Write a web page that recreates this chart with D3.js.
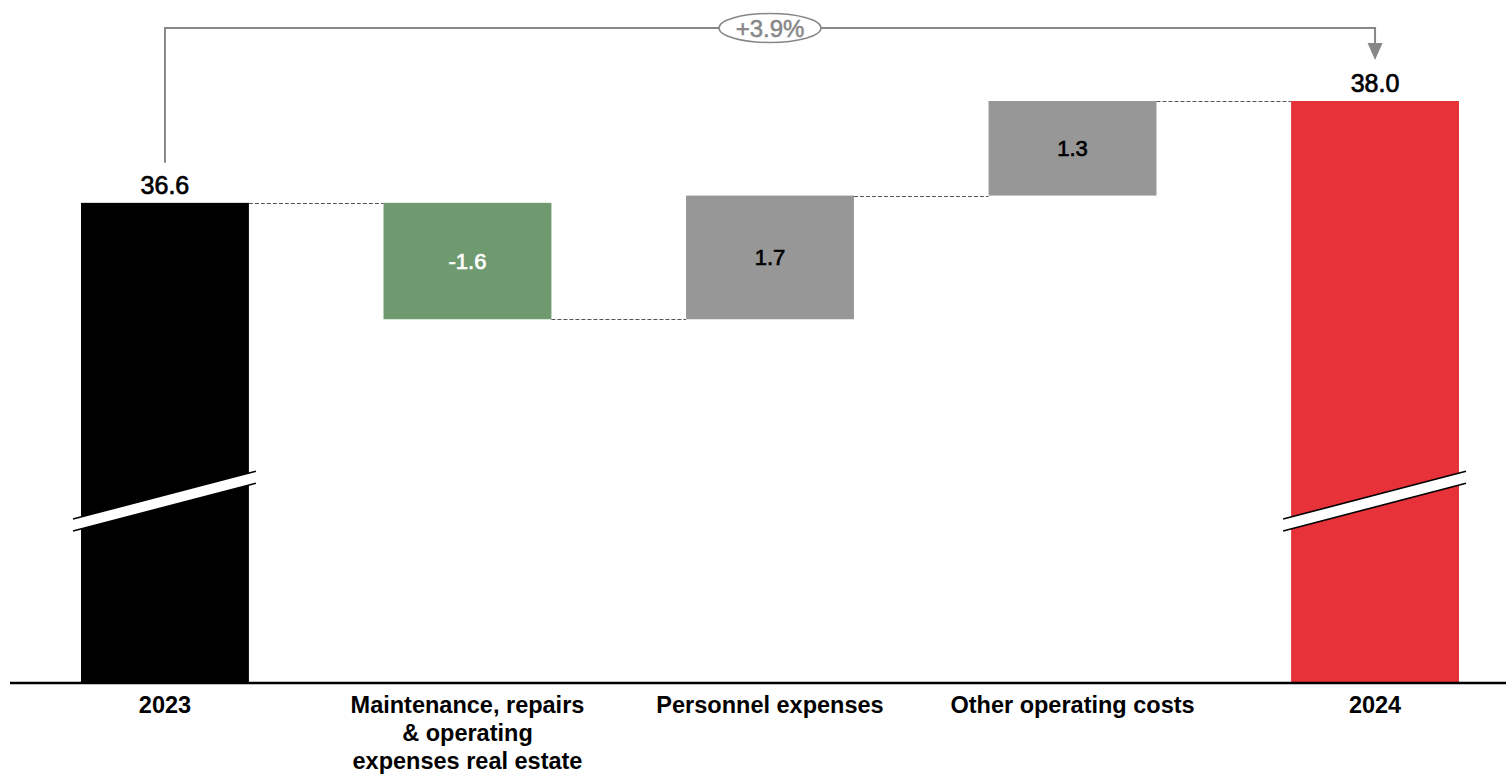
<!DOCTYPE html>
<html>
<head>
<meta charset="utf-8">
<script src="https://cdn.jsdelivr.net/npm/d3@7"></script>
<style>
  html, body { margin: 0; padding: 0; background: #fff; }
  svg { display: block; }
  text { font-family: "Liberation Sans", Arial, sans-serif; }
</style>
</head>
<body>
<svg id="chart" width="1506" height="775"></svg>
<script>
// Operating costs bridge, 2023 -> 2024
const categories = ["2023", "Maintenance, repairs & operating expenses real estate", "Personnel expenses", "Other operating costs", "2024"];
const labelLines = [["2023"], ["Maintenance, repairs", "& operating", "expenses real estate"], ["Personnel expenses"], ["Other operating costs"], ["2024"]];
const kinds = ["total", "delta", "delta", "delta", "total"];
const values = [36.6, -1.6, 1.7, 1.3, 38.0];
const changeLabel = "+3.9%";
const axisFloor = 30; // value at the broken baseline

const colors = { start: "#000000", end: "#e63238", down: "#6f9a70", up: "#979797" };

const svg = d3.select("#chart");
const W = 1506, H = 775;

const x = d3.scaleBand().domain(categories).range([81, 1459]).paddingInner(0.445).paddingOuter(0);
const y = d3.scaleLinear().domain([axisFloor, 38]).range([683, 101]);

// build waterfall segments
let running = 0;
const bars = categories.map((c, i) => {
  let lo, hi;
  if (kinds[i] === "total") { lo = axisFloor; hi = values[i]; running = values[i]; }
  else { const prev = running; running = +(running + values[i]).toFixed(2); lo = Math.min(prev, running); hi = Math.max(prev, running); }
  let fill;
  if (i === 0) fill = colors.start;
  else if (i === categories.length - 1) fill = colors.end;
  else fill = values[i] < 0 ? colors.down : colors.up;
  return { c, i, lo, hi, end: running, fill, v: values[i], kind: kinds[i] };
});

// bars
svg.append("g").selectAll("rect").data(bars).join("rect")
  .attr("x", d => x(d.c))
  .attr("y", d => y(d.hi))
  .attr("width", x.bandwidth())
  .attr("height", d => y(d.lo) - y(d.hi))
  .attr("fill", d => d.fill);

// dashed connectors between consecutive bars
const conn = svg.append("g");
for (let i = 0; i < bars.length - 1; i++) {
  const lvl = bars[i].end;
  conn.append("line")
    .attr("x1", x(bars[i].c) + x.bandwidth())
    .attr("x2", x(bars[i + 1].c))
    .attr("y1", Math.round(y(lvl)) + 0.5)
    .attr("y2", Math.round(y(lvl)) + 0.5)
    .attr("stroke", "#555")
    .attr("stroke-width", 1)
    .attr("stroke-dasharray", "4,2");
}

// axis break marks on the total bars
const brk = svg.append("g");
bars.filter(d => d.kind === "total").forEach(d => {
  const x0 = x(d.c) - 8, x1 = x(d.c) + x.bandwidth() + 7;
  const cx = x(d.c) + x.bandwidth() / 2;
  const cy = y(axisFloor) - 182;
  const slope = -0.262, gap = 6;
  const yAt = (xx, off) => cy + slope * (xx - cx) + off;
  brk.append("path")
    .attr("d", `M${x0},${yAt(x0, -gap)} L${x1},${yAt(x1, -gap)} L${x1},${yAt(x1, gap)} L${x0},${yAt(x0, gap)} Z`)
    .attr("fill", "#fff");
  [-gap, gap].forEach(off => {
    brk.append("line")
      .attr("x1", x0).attr("y1", yAt(x0, off))
      .attr("x2", x1).attr("y2", yAt(x1, off))
      .attr("stroke", "#000").attr("stroke-width", 1.6);
  });
});

// value labels (slightly thickened outline gives a medium weight)
const fmt = v => d3.format(".1f")(v).replace("\u2212", "-");
svg.append("g").selectAll("text").data(bars).join("text")
  .attr("x", d => x(d.c) + x.bandwidth() / 2)
  .attr("y", d => d.kind === "total" ? y(d.hi) - 9 : (y(d.hi) + y(d.lo)) / 2 + 8)
  .attr("text-anchor", "middle")
  .attr("font-size", d => d.kind === "total" ? 25 : 22)
  .attr("fill", d => d.kind === "total" ? "#000" : (d.v < 0 ? "#fff" : "#000"))
  .attr("stroke", d => d.kind === "total" ? "#000" : (d.v < 0 ? "#fff" : "#000"))
  .attr("stroke-width", 0.7)
  .text(d => fmt(d.v));

// baseline
svg.append("line")
  .attr("x1", 10).attr("x2", W)
  .attr("y1", y(axisFloor)).attr("y2", y(axisFloor))
  .attr("stroke", "#000").attr("stroke-width", 2.5);

// category axis
const axis = svg.append("g")
  .attr("transform", `translate(0,${y(axisFloor)})`)
  .call(d3.axisBottom(x).tickSize(0).tickPadding(0));
axis.select(".domain").remove();
axis.selectAll(".tick text")
  .attr("font-size", 23.5)
  .attr("font-weight", "bold")
  .attr("fill", "#000")
  .attr("font-family", "'Liberation Sans', Arial, sans-serif")
  .attr("dy", null)
  .each(function (d, i) {
    const t = d3.select(this).text(null).attr("y", 30);
    labelLines[i].forEach((ln, k) => {
      t.append("tspan").attr("x", 0).attr("dy", k === 0 ? 0 : 28).text(ln);
    });
  });

// change bracket from first to last total
const bx0 = x(categories[0]) + x.bandwidth() / 2;
const bx1 = x(categories[categories.length - 1]) + x.bandwidth() / 2;
const topY = 28;
const gcol = "#878787";
svg.append("path")
  .attr("d", `M${bx0},${y(values[0]) - 40} V${topY} H${bx1} V${46}`)
  .attr("fill", "none").attr("stroke", gcol).attr("stroke-width", 2);
svg.append("path")
  .attr("d", `M${bx1 - 7.5},${43} L${bx1 + 7.5},${43} L${bx1},${60} Z`)
  .attr("fill", gcol);
const mx = (bx0 + bx1) / 2;
svg.append("ellipse")
  .attr("cx", mx).attr("cy", topY).attr("rx", 51).attr("ry", 14.5)
  .attr("fill", "#fff").attr("stroke", gcol).attr("stroke-width", 1.5);
svg.append("text")
  .attr("x", mx).attr("y", topY + 8.5)
  .attr("text-anchor", "middle")
  .attr("font-size", 24)
  .attr("fill", gcol)
  .attr("stroke", gcol)
  .attr("stroke-width", 0.5)
  .text(changeLabel);
</script>
</body>
</html>
